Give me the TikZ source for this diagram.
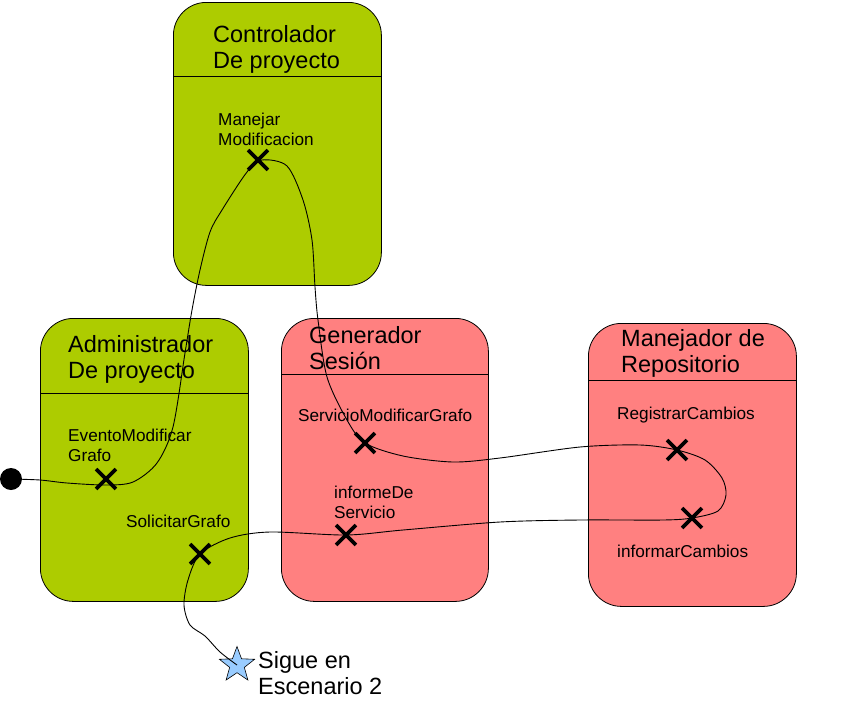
\documentclass[tikz,border=0pt]{standalone}
\usepackage{fontspec}
\setmainfont{Liberation Sans}
\usetikzlibrary{shapes.misc,shapes.geometric}
\definecolor{limeg}{RGB}{173,204,0}
\definecolor{rosa}{RGB}{255,128,128}
\definecolor{starblue}{RGB}{153,204,255}
\newcommand{\mylines}[1]{\begin{tabular}[t]{@{}l@{}}#1\end{tabular}}
\begin{document}
\begin{tikzpicture}[x=1pt,y=-1pt,
  box/.style={draw, line width=0.8pt, rounded corners=33pt, anchor=north west, inner sep=0pt, minimum width=208pt, minimum height=283pt},
  divider/.style={line width=0.8pt},
  tit/.style={anchor=base west, inner sep=0pt, font=\fontsize{23.5}{26.5}\selectfont},
  lbl/.style={anchor=base west, inner sep=0pt, font=\fontsize{17.2}{20}\selectfont},
  xmark/.style={cross out, draw, line width=3.8pt, minimum size=16pt, inner sep=0pt},
  curve/.style={line width=0.9pt}]
\useasboundingbox (0,0) rectangle (846,710);

% boxes
\node[box, fill=limeg] (ctrl) at (173,2) {};
\node[box, fill=limeg] (admin) at (40,318) {};
\node[box, fill=rosa, minimum width=207pt] (gen) at (281,318) {};
\node[box, fill=rosa] (rep) at (588,323) {};

\draw[divider] (ctrl.west |- 0,76) -- (ctrl.east |- 0,76);
\draw[divider] (admin.west |- 0,393) -- (admin.east |- 0,393);
\draw[divider] (gen.west |- 0,374) -- (gen.east |- 0,374);
\draw[divider] (rep.west |- 0,380) -- (rep.east |- 0,380);

% titles
\node[tit] (tctrl) at (213,42) {\mylines{Controlador\\De proyecto}};
\node[tit] (tadmin) at (68,352) {\mylines{Administrador\\De proyecto}};
\node[tit] (tgen) at (309,343) {\mylines{Generador\\Sesión}};
\node[tit] (trep) at (621,346) {\mylines{Manejador de\\Repositorio}};

% labels
\node[lbl] (lman) at (218,125) {\mylines{Manejar\\Modificacion}};
\node[lbl] (levt) at (68,441) {\mylines{EventoModificar\\Grafo}};
\node[lbl] (lsol) at (126,527) {SolicitarGrafo};
\node[lbl] (lserv) at (298,421) {ServicioModificarGrafo};
\node[lbl] (linf) at (334,498) {\mylines{informeDe\\Servicio}};
\node[lbl] (lreg) at (617,419) {RegistrarCambios};
\node[lbl] (linfc) at (617,557) {informarCambios};
\node[tit] (lsig) at (258,668) {\mylines{Sigue en\\Escenario 2}};

% start and end
\node[circle, fill=black, minimum size=22pt, inner sep=0pt] (dot) at (11,479) {};
\node[star, star points=5, star point ratio=2.4, minimum size=37pt, inner sep=0pt, draw, line width=0.6pt, fill=starblue] (star) at (237,665) {};

% X marks
\node[xmark] (x1) at (106,479) {};
\node[xmark] (x2) at (258,160) {};
\node[xmark] (x3) at (365,443) {};
\node[xmark] (x4) at (677,450) {};
\node[xmark] (x5) at (692,518) {};
\node[xmark] (x6) at (346,535) {};
\node[xmark] (x7) at (200,554) {};

% the path
\draw[curve] plot[smooth, tension=0.5] coordinates {
 (dot.center) (40,480) (67,483) (106,485) (133,482) (157,463) (173,427)
 (185,353) (192,310) (200,270) (210,232) (222,210) (247,172) (262,160) (287,166)
 (303,200) (312,240) (315,287) (318,320) (327,377) (347,420) (x3.center)
 (403,456) (453,462) (500,458) (580,447) (640,445) (x4.center) (705,460)
 (722,478) (726,495) (718,511) (x5.center) (663,520) (580,520) (500,522)
 (403,530) (x6.center) (270,532) (230,538) (x7.center) (188,580) (184,605)
 (190,625) (205,636) (220,652) (star.center)};
\end{tikzpicture}
\end{document}
